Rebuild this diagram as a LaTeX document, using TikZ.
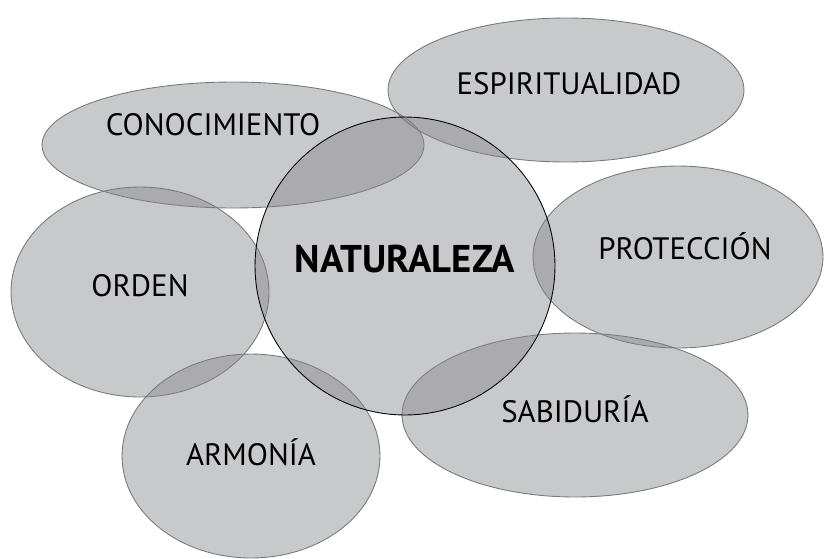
\documentclass[tikz,border=0pt]{standalone}
\usepackage{fontspec}
\setmainfont{PT Sans}
\usetikzlibrary{shapes.geometric}
\definecolor{bubblefill}{HTML}{868789}
\definecolor{bubbleline}{HTML}{7A7A7C}

\begin{document}
\begin{tikzpicture}[
    x=0.02cm, y=-0.02cm,
    bubble/.style={
        ellipse,
        draw=bubbleline,
        fill=bubblefill,
        fill opacity=0.45,
        draw opacity=1,
        line width=0.5pt,
        inner sep=0pt
    },
    mylabel/.style={
        font=\fontsize{17.6}{20}\selectfont,
        text height=1.6ex,
        text depth=0pt,
        inner sep=0pt
    }
]
\useasboundingbox (0,0) rectangle (824,558);

% Ellipses around the centre
\node[bubble, minimum width=7.64cm, minimum height=2.52cm] (conoc) at (233,145) {};
\node[bubble, minimum width=7.12cm, minimum height=2.88cm] (espir) at (566,90) {};
\node[bubble, minimum width=5.80cm, minimum height=3.64cm] (prot) at (678,257) {};
\node[bubble, minimum width=5.16cm, minimum height=4.20cm] (orden) at (140,292) {};
\node[bubble, minimum width=5.16cm, minimum height=4.08cm] (armon) at (251,456) {};
\node[bubble, minimum width=6.92cm, minimum height=3.28cm] (sabid) at (575,415) {};

% Centre circle
\node[bubble, draw=black, minimum width=6.00cm, minimum height=5.96cm] (nat) at (405,266) {};

% Labels
\node[mylabel] (conoclabel) at (213,128) {CONOCIMIENTO};
\node[mylabel] (espirlabel) at (569,87) {ESPIRITUALIDAD};
\node[mylabel] (protlabel) at (685,252) {PROTECCIÓN};
\node[mylabel] (ordenlabel) at (140,289) {ORDEN};
\node[mylabel] (armonlabel) at (251,458) {ARMONÍA};
\node[mylabel] (sabidlabel) at (575,415) {SABIDURÍA};
\node[mylabel, font=\fontsize{22}{26}\selectfont\bfseries] (natlabel) at (405,265) {NATURALEZA};

\end{tikzpicture}
\end{document}
